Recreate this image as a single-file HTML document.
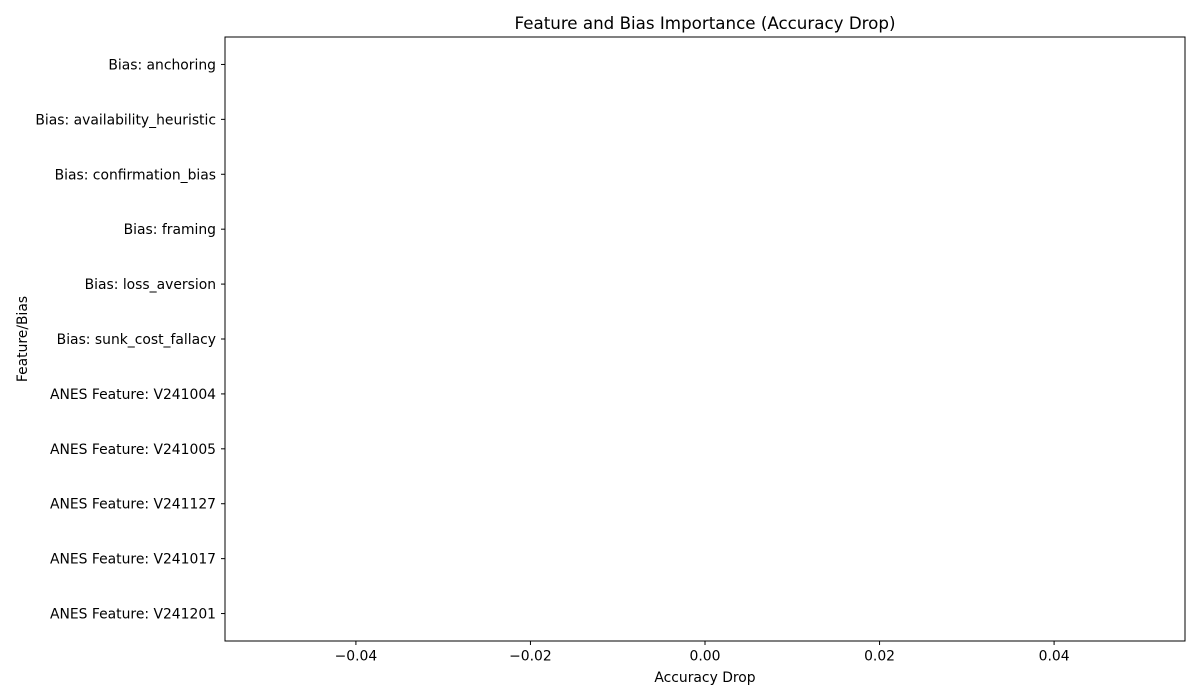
<!DOCTYPE html>
<html>
<head>
<meta charset="utf-8">
<style>
  html,body{margin:0;padding:0;background:#fff;}
  svg{display:block;font-family:"DejaVu Sans","Liberation Sans",sans-serif;}
</style>
</head>
<body>
<svg id="chart" width="1200" height="700" viewBox="0 0 1200 700"></svg>
<script>
const categories = ["Bias: anchoring","Bias: availability_heuristic","Bias: confirmation_bias","Bias: framing","Bias: loss_aversion","Bias: sunk_cost_fallacy","ANES Feature: V241004","ANES Feature: V241005","ANES Feature: V241127","ANES Feature: V241017","ANES Feature: V241201"];
const values = [0,0,0,0,0,0,0,0,0,0,0];
const xTicks = [-0.04,-0.02,0.00,0.02,0.04];
const xTickLabels = ["\u22120.04","\u22120.02","0.00","0.02","0.04"];

const NS="http://www.w3.org/2000/svg";
const svg=document.getElementById('chart');
const L=225,R=1185,T=37,B=641;
const xMin=-0.055,xMax=0.055;
function x(v){return L+(v-xMin)/(xMax-xMin)*(R-L);}
const step=(B-T)/(categories.length);
function y(i){return T+step*(i+0.5);}
function el(tag,attrs,text){const e=document.createElementNS(NS,tag);for(const k in attrs)e.setAttribute(k,attrs[k]);if(text!==undefined)e.textContent=text;svg.appendChild(e);return e;}

values.forEach((v,i)=>{
  const x0=x(Math.min(0,v)),x1=x(Math.max(0,v));
  const r=el('rect',{x:x0,y:y(i)-step*0.4,width:Math.max(0,x1-x0),height:step*0.8,fill:'#1f77b4'});
  
  
});

const fr=el('rect',{x:L,y:T,width:R-L,height:B-T,fill:'none',stroke:'#000','stroke-width':1});



xTicks.forEach((t,i)=>{
  const tl=el('line',{x1:x(t),x2:x(t),y1:B,y2:B+4,stroke:'#000'});
  
  
  const tx=el('text',{x:x(t),y:B+19.5,'text-anchor':'middle','font-size':13.9,fill:'#000'},xTickLabels[i]);
  
  
});

categories.forEach((c,i)=>{
  const tl=el('line',{x1:L-4,x2:L,y1:y(i),y2:y(i),stroke:'#000'});
  
  
  const tx=el('text',{x:L-9,y:y(i)+5,'text-anchor':'end','font-size':13.9,fill:'#000'},c);
  
  
});

const title=el('text',{x:(L+R)/2,y:29,'text-anchor':'middle','font-size':16.7,fill:'#000'},'Feature and Bias Importance (Accuracy Drop)');


const xl=el('text',{x:(L+R)/2,y:682,'text-anchor':'middle','font-size':13.9,fill:'#000'},'Accuracy Drop');


const yl=el('text',{x:0,y:0,'text-anchor':'middle','font-size':13.9,fill:'#000',transform:'translate(27,'+((T+B)/2)+') rotate(-90)'},'Feature/Bias');


</script>
</body>
</html>
